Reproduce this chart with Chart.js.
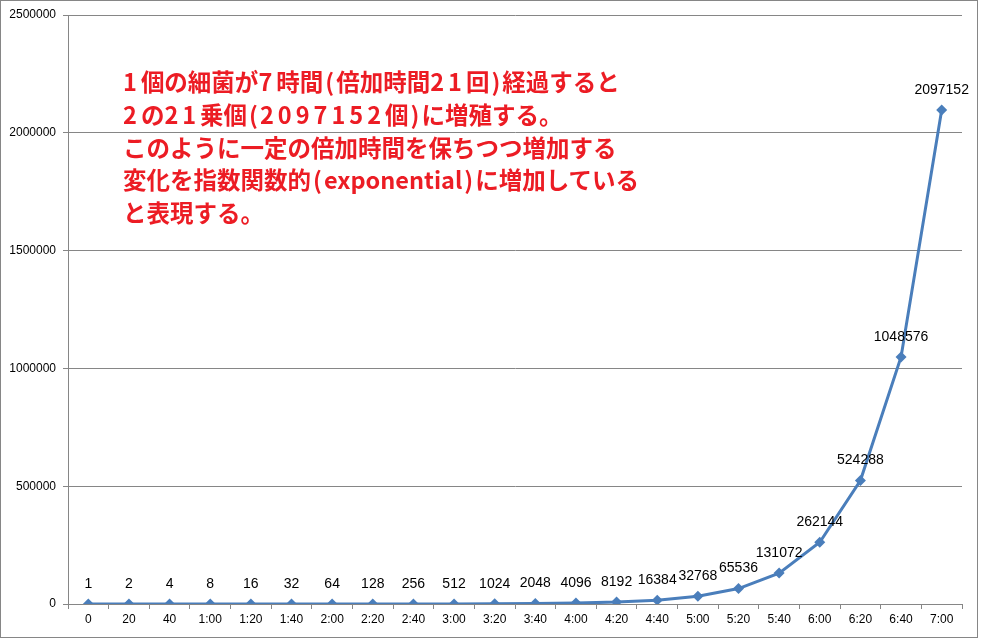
<!DOCTYPE html>
<html>
<head>
<meta charset="utf-8">
<script src="https://cdn.jsdelivr.net/npm/chart.js@4.4.0/dist/chart.umd.min.js"></script>
<style>
  body { margin: 0; background: #fff; }
  #wrap { position: relative; width: 985px; height: 639px; }
  #frame { position: absolute; left: 0; top: 0; width: 976px; height: 636px; border: 1px solid #868686; pointer-events: none; }
  #note {
    position: absolute; left: 123px; top: 65px;
    font: 700 23.5px "Noto Sans CJK JP", sans-serif; line-height: 32.75px;
    color: #ec1c24; white-space: pre;
  }
  #note .n { letter-spacing: 4px; }
  #note .p { padding: 0 2px; }
</style>
</head>
<body>
<div id="wrap">
  <canvas id="chart" width="985" height="639"></canvas>
  <div id="frame"></div>
  <div id="note"><span class="n">1</span>個の細菌が<span class="n">7</span>時間<span class="p">(</span>倍加時間<span class="n">21</span>回<span class="p">)</span>経過すると
<span class="n">2</span>の<span class="n">21</span>乗個<span class="p">(</span><span class="n">2097152</span>個<span class="p">)</span>に増殖する。
このように一定の倍加時間を保ちつつ増加する
変化を指数関数的<span class="p">(</span>exponential<span class="p">)</span>に増加している
と表現する。</div>
</div>
<script>
// elapsed time (20 min doubling steps)
const timeLabels = ['0', '20', '40', '1:00', '1:20', '1:40', '2:00', '2:20', '2:40', '3:00', '3:20',
  '3:40', '4:00', '4:20', '4:40', '5:00', '5:20', '5:40', '6:00', '6:20', '6:40', '7:00'];
// number of bacteria
const cellCounts = [1, 2, 4, 8, 16, 32, 64, 128, 256, 512, 1024,
  2048, 4096, 8192, 16384, 32768, 65536, 131072, 262144, 524288, 1048576, 2097152];
const yTicks = [0, 500000, 1000000, 1500000, 2000000, 2500000];

const gridColor = '#868686';
const lineColor = '#4a7ebb';

// draw the value above every point
const pointLabels = {
  id: 'pointLabels',
  afterDatasetsDraw(chart) {
    const ctx = chart.ctx;
    const meta = chart.getDatasetMeta(0);
    ctx.save();
    ctx.font = '14px "Liberation Sans", Arial, sans-serif';
    ctx.fillStyle = '#000';
    ctx.textAlign = 'center';
    ctx.textBaseline = 'middle';
    meta.data.forEach((pt, i) => {
      ctx.fillText(String(chart.data.datasets[0].data[i]), pt.x, pt.y - 20);
    });
    ctx.restore();
  }
};

new Chart(document.getElementById('chart'), {
  type: 'line',
  data: {
    labels: timeLabels,
    datasets: [{
      data: cellCounts,
      borderColor: lineColor,
      backgroundColor: lineColor,
      borderWidth: 3,
      tension: 0,
      pointStyle: 'rectRot',
      pointRadius: 5.5,
      pointBorderWidth: 0,
      pointBackgroundColor: lineColor
    }]
  },
  options: {
    responsive: false,
    animation: false,
    layout: { padding: { top: 15, right: 23, left: 0, bottom: 0 } },
    plugins: { legend: { display: false }, tooltip: { enabled: false } },
    scales: {
      x: {
        offset: true,
        grid: { offset: true, drawOnChartArea: false, color: gridColor, tickLength: 5 },
        border: { color: gridColor },
        ticks: { color: '#000', padding: 3, maxRotation: 0, autoSkip: false,
          font: { family: '"Liberation Sans", Arial, sans-serif', size: 12 } },
        afterFit: s => { s.height = 35; }
      },
      y: {
        min: 0,
        max: 2500000,
        afterBuildTicks: s => { s.ticks = yTicks.map(v => ({ value: v })); },
        grid: { color: gridColor, tickLength: 5 },
        border: { color: gridColor },
        ticks: { color: '#000', padding: 7, callback: v => String(v),
          font: { family: '"Liberation Sans", Arial, sans-serif', size: 12 } },
        afterFit: s => { s.width = 68; }
      }
    }
  },
  plugins: [pointLabels]
});
</script>
</body>
</html>
